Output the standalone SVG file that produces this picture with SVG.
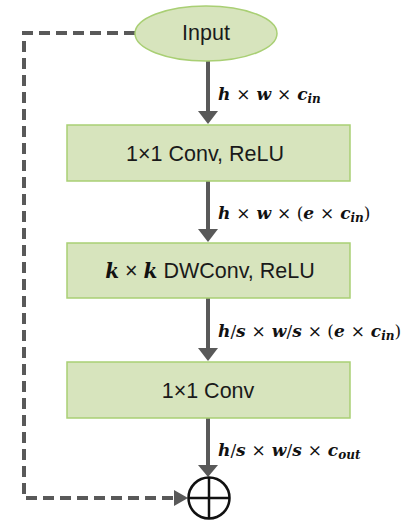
<svg xmlns="http://www.w3.org/2000/svg" width="416" height="526" viewBox="0 0 416 526">
<style>
.node{fill:#d7e4bd;stroke:#a9cf74;stroke-width:1.5}
.lbl{font-family:"Liberation Sans",Arial,sans-serif;font-size:21.5px;fill:#1a1a1a;text-anchor:middle}
.math{font-family:"DejaVu Serif","Liberation Serif",serif;font-size:17px;font-weight:bold;font-style:italic;fill:#111}
.op{font-style:normal;font-weight:normal}
.sub{font-size:12px}
.arr{stroke:#595959;stroke-width:4;fill:none}
.dash{stroke:#595959;stroke-width:4;fill:none;stroke-dasharray:11 6}
</style>
<g id="connectors">
<path class="dash" d="M135,33 H24 V498 H175"/>
<path d="M174,490 L188,498 L174,506 Z" fill="#595959"/>
<line class="arr" x1="208" y1="61" x2="208" y2="112"/>
<path d="M198,111 L208,124 L218,111 Z" fill="#595959"/>
<line class="arr" x1="208" y1="181" x2="208" y2="230"/>
<path d="M198,229 L208,242 L218,229 Z" fill="#595959"/>
<line class="arr" x1="208" y1="298" x2="208" y2="349"/>
<path d="M198,348 L208,361 L218,348 Z" fill="#595959"/>
<line class="arr" x1="208" y1="418" x2="208" y2="466"/>
<path d="M198,465 L208,477 L218,465 Z" fill="#595959"/>
<text class="math" x="218" y="100">h <tspan class="op">×</tspan> w <tspan class="op">×</tspan> c<tspan class="sub" dy="3">in</tspan></text>
<text class="math" x="218" y="219">h <tspan class="op">×</tspan> w <tspan class="op">× (</tspan>e <tspan class="op">×</tspan> c<tspan class="sub" dy="3">in</tspan><tspan class="op" dy="-3">)</tspan></text>
<text class="math" x="218" y="337">h<tspan class="op">/</tspan>s <tspan class="op">×</tspan> w<tspan class="op">/</tspan>s <tspan class="op">× (</tspan>e <tspan class="op">×</tspan> c<tspan class="sub" dy="3">in</tspan><tspan class="op" dy="-3">)</tspan></text>
<text class="math" x="218" y="456">h<tspan class="op">/</tspan>s <tspan class="op">×</tspan> w<tspan class="op">/</tspan>s <tspan class="op">×</tspan> c<tspan class="sub" dy="3">out</tspan></text>
</g>
<g id="input">
<ellipse class="node" cx="206" cy="33.5" rx="71" ry="27.5"/>
<text class="lbl" x="206" y="40">Input</text>
</g>
<g id="conv1">
<rect class="node" x="67" y="125" width="283" height="56"/>
<text class="lbl" x="205" y="161">1×1 Conv, ReLU</text>
</g>
<g id="dwconv">
<rect class="node" x="67" y="243" width="283" height="55"/>
<text class="lbl" x="210" y="278"><tspan class="math" style="font-size:20px">k</tspan> × <tspan class="math" style="font-size:20px">k</tspan> DWConv, ReLU</text>
</g>
<g id="conv2">
<rect class="node" x="67" y="362" width="283" height="56"/>
<text class="lbl" x="208" y="398">1×1 Conv</text>
</g>
<g id="add">
<circle cx="209" cy="498" r="20.5" fill="none" stroke="#111" stroke-width="2.5"/>
<line x1="188.5" y1="498" x2="229.5" y2="498" stroke="#111" stroke-width="2.5"/>
<line x1="209" y1="477.5" x2="209" y2="518.5" stroke="#111" stroke-width="2.5"/>
</g>
</svg>
